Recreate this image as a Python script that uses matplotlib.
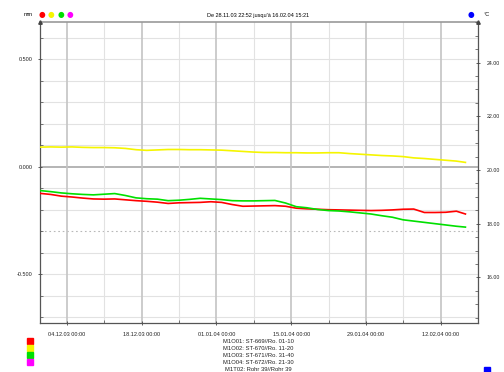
import datetime

import matplotlib
matplotlib.use("Agg")
import matplotlib.pyplot as plt
import matplotlib.dates as mdates
from matplotlib.ticker import MultipleLocator, FormatStrFormatter

plt.rcParams['font.family'] = ['Liberation Sans', 'DejaVu Sans']

# time span of the record
t_start = datetime.datetime(2003, 11, 28, 22, 52)
t_end = datetime.datetime(2004, 2, 16, 15, 21)

# sample days after t_start (every 2 days), values in mm
days = list(range(0, 80, 2)) + [79.69]

m1o01 = [-0.123, -0.128, -0.136, -0.140, -0.145, -0.149, -0.150, -0.149, -0.153, -0.157,
         -0.160, -0.164, -0.170, -0.167, -0.166, -0.165, -0.162, -0.165, -0.175, -0.183,
         -0.182, -0.181, -0.180, -0.183, -0.192, -0.195, -0.197, -0.199, -0.200, -0.201,
         -0.202, -0.203, -0.202, -0.200, -0.197, -0.196, -0.212, -0.212, -0.211, -0.206,
         -0.219]
m1o02 = [0.092, 0.093, 0.092, 0.093, 0.091, 0.090, 0.090, 0.089, 0.086, 0.080,
         0.077, 0.079, 0.081, 0.081, 0.080, 0.080, 0.079, 0.078, 0.075, 0.072,
         0.069, 0.067, 0.067, 0.066, 0.066, 0.065, 0.065, 0.066, 0.066, 0.062,
         0.059, 0.056, 0.053, 0.051, 0.048, 0.042, 0.039, 0.035, 0.031, 0.027,
         0.021]
m1o03 = [-0.110, -0.115, -0.121, -0.125, -0.128, -0.130, -0.127, -0.124, -0.133, -0.144,
         -0.148, -0.150, -0.157, -0.155, -0.151, -0.146, -0.149, -0.152, -0.157, -0.158,
         -0.158, -0.157, -0.156, -0.168, -0.185, -0.190, -0.198, -0.203, -0.205, -0.209,
         -0.214, -0.219, -0.227, -0.234, -0.246, -0.252, -0.258, -0.264, -0.270, -0.276,
         -0.280]

series_names = ["M1O01: ST-669//Ro. 01-10", "M1O02: ST-670//Ro. 11-20",
                "M1O03: ST-671//Ro. 31-40", "M1O04: ST-672//Ro. 21-30",
                "M1T02: Rohr 39//Rohr 39"]
series_colors = ["#ff0000", "#f5f500", "#00e000", "#ff00ff", "#0000ff"]

W, H = 504, 372
fig = plt.figure(figsize=(W / 100, H / 100), dpi=100)


def px(x, y):
    return x / W, 1 - y / H


ax_l, ax_r, ax_t, ax_b = 40, 478, 22, 323
ax = fig.add_axes([ax_l / W, 1 - ax_b / H, (ax_r - ax_l) / W, (ax_b - ax_t) / H])

times = [t_start + datetime.timedelta(days=d) for d in days]
for vals, c in zip([m1o01, m1o02, m1o03], series_colors[:3]):
    ax.plot(times, vals, color=c, lw=1.2, zorder=3)

ax.set_xlim(t_start, t_end)
ax.set_ylim(-0.726, 0.674)

# grid
for v in [i / 10 for i in range(-7, 7)]:
    if abs(v + 0.3) < 1e-6:
        ax.axhline(v, color="#b8b8b8", lw=0.8, ls=(0, (1.5, 2.5)), zorder=1)
    else:
        ax.axhline(v, color="#a8a8a8" if abs(v) < 1e-6 else "#e2e2e2",
                   lw=1.2 if abs(v) < 1e-6 else 0.8, zorder=1)
major_dates = [datetime.datetime(2003, 12, 4) + datetime.timedelta(days=14 * k) for k in range(6)]
minor_dates = [d + datetime.timedelta(days=7) for d in major_dates]
for d in major_dates:
    ax.axvline(d, color="#c4c4c4", lw=1.2, zorder=1)
for d in minor_dates:
    ax.axvline(d, color="#e2e2e2", lw=0.8, zorder=1)

ax.set_xticks(major_dates)
ax.set_xticks(minor_dates, minor=True)
ax.xaxis.set_major_formatter(mdates.DateFormatter("%d.%m.%y %H:%M"))
ax.yaxis.set_major_locator(MultipleLocator(0.5))
ax.yaxis.set_minor_locator(MultipleLocator(0.1))
ax.yaxis.set_major_formatter(FormatStrFormatter("%.3f"))
ax.tick_params(axis="both", which="major", labelsize=4, length=3, width=0.6,
               direction="inout", color="#444444", labelcolor="#222222")
ax.tick_params(axis="both", which="minor", length=2, width=0.5, direction="in", color="#444444")
ax.tick_params(axis="x", pad=5)
ax.tick_params(axis="y", pad=4)

for s in ["left", "bottom", "right"]:
    ax.spines[s].set_color("#555555")
    ax.spines[s].set_linewidth(0.9)
ax.spines["top"].set_color("#999999")
ax.spines["top"].set_linewidth(1.2)

ax2 = ax.twinx()
ax2.set_ylim(14.30, 25.51)
ax2.yaxis.set_major_locator(MultipleLocator(2))
ax2.yaxis.set_minor_locator(MultipleLocator(0.5))
ax2.yaxis.set_major_formatter(FormatStrFormatter("%.2f"))
ax2.tick_params(axis="y", which="major", labelsize=3.8, length=3, width=0.6,
                direction="inout", color="#444444", labelcolor="#222222", pad=5)
ax2.tick_params(axis="y", which="minor", length=2, width=0.5, direction="in", color="#444444")
for s in ax2.spines.values():
    s.set_visible(False)

# arrow tips on the vertical axes
for xa in (0, 1):
    ax.plot([xa], [1.0], marker="^", ms=2.5, color="#444444", transform=ax.transAxes,
            clip_on=False, zorder=5)

# header
fig.text(*px(28, 15), "mm", fontsize=4, ha="center", va="center")
for i, c in enumerate(series_colors[:4]):
    fig.text(*px(42 + 9.3 * i, 15), "\u25cf", fontsize=5.5, color=c, ha="center", va="center",
             family="DejaVu Sans")
fig.text(*px(471, 15), "\u25cf", fontsize=5.5, color=series_colors[4], ha="center", va="center",
         family="DejaVu Sans")
fig.text(*px(487, 15), "\u00b0C", fontsize=4, ha="center", va="center")
fig.text(*px(258, 15), "De 28.11.03 22:52 jusqu'\u00e0 16.02.04 15:21", fontsize=4,
         ha="center", va="center")

# legend
for i, name in enumerate(series_names):
    fig.text(*px(258, 341.5 + 7 * i), name, fontsize=4.2, ha="center", va="center", color="#222222")
for i, c in enumerate(series_colors[:4]):
    fig.patches.append(plt.Rectangle(px(27, 344 + 7 * i), 6 / W, 6 / H, color=c,
                                     transform=fig.transFigure, figure=fig))
fig.patches.append(plt.Rectangle(px(484, 373), 6 / W, 6 / H, color=series_colors[4],
                                 transform=fig.transFigure, figure=fig))

fig.savefig("out.png", dpi=100)
